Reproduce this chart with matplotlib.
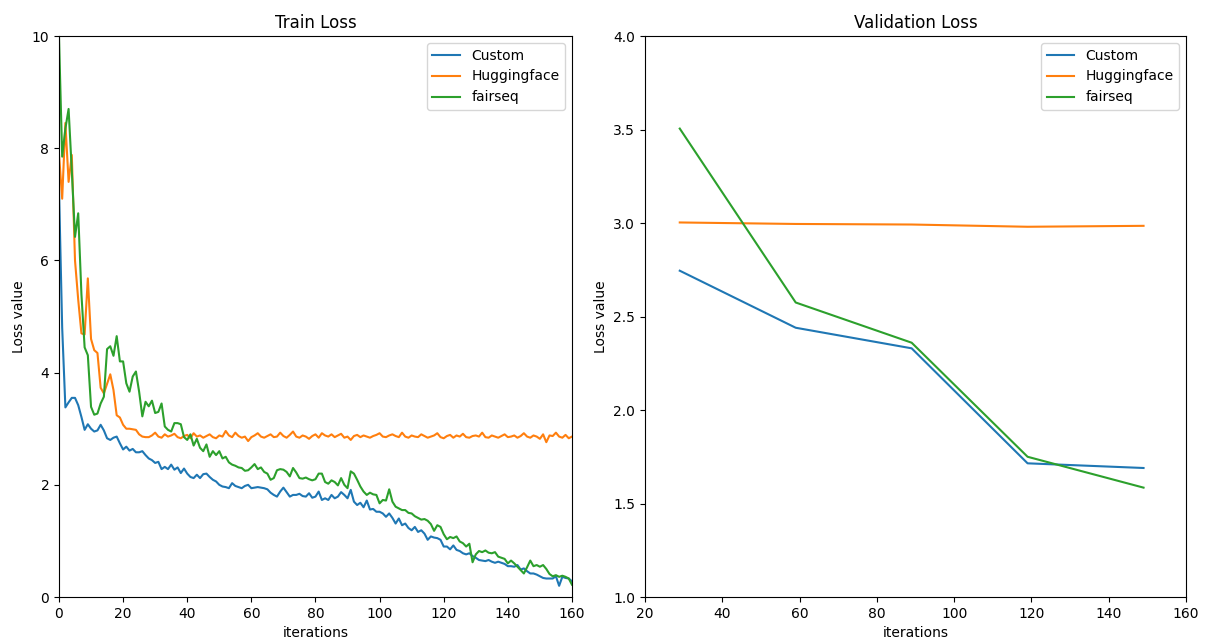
import matplotlib
matplotlib.use('Agg')
import matplotlib.pyplot as plt

# train loss, one value per iteration
train_iters = list(range(161))

train_custom = [
    7.3, 4.8, 3.38, 3.47, 3.55, 3.55, 3.42, 3.21, 2.98, 3.08,
    3.0, 2.95, 2.97, 3.07, 2.97, 2.83, 2.8, 2.84, 2.86, 2.74,
    2.63, 2.68, 2.61, 2.64, 2.58, 2.58, 2.6, 2.53, 2.47, 2.44,
    2.39, 2.41, 2.28, 2.32, 2.28, 2.36, 2.27, 2.31, 2.21, 2.29,
    2.2, 2.14, 2.12, 2.18, 2.12, 2.19, 2.2, 2.14, 2.09, 2.06,
    2.0, 1.97, 1.96, 1.94, 2.03, 1.98, 1.96, 1.94, 1.98, 2.0,
    1.94, 1.95, 1.96, 1.95, 1.94, 1.92, 1.86, 1.82, 1.79, 1.88,
    1.95, 1.87, 1.79, 1.82, 1.82, 1.84, 1.8, 1.79, 1.85, 1.77,
    1.79, 1.88, 1.73, 1.76, 1.73, 1.82, 1.76, 1.79, 1.87, 1.82,
    1.76, 1.91, 1.7, 1.64, 1.68, 1.6, 1.72, 1.56, 1.57, 1.52,
    1.52, 1.49, 1.43, 1.49, 1.41, 1.31, 1.4, 1.28, 1.31, 1.23,
    1.19, 1.25, 1.16, 1.19, 1.13, 1.02, 1.08, 1.06, 1.05, 1.02,
    0.9, 0.9, 0.85, 0.92, 0.84, 0.82, 0.78, 0.76, 0.78, 0.73,
    0.7, 0.66, 0.65, 0.64, 0.66, 0.63, 0.61, 0.63, 0.61, 0.59,
    0.55, 0.55, 0.54, 0.57, 0.49, 0.51, 0.46, 0.42, 0.42, 0.4,
    0.37, 0.34, 0.33, 0.33, 0.33, 0.37, 0.2, 0.36, 0.34, 0.33, 0.28,
]

train_hf = [
    7.9, 7.1, 8.45, 7.4, 7.88, 6.0, 5.3, 4.7, 4.68, 5.68,
    4.6, 4.4, 4.35, 3.73, 3.63, 3.8, 3.97, 3.69, 3.24, 3.2,
    3.07, 3.0, 3.0, 2.99, 2.98, 2.90, 2.86, 2.85, 2.85, 2.88,
    2.93, 2.86, 2.84, 2.90, 2.86, 2.88, 2.91, 2.85, 2.83, 2.87,
    2.89, 2.83, 2.92, 2.86, 2.88, 2.84, 2.87, 2.90, 2.85, 2.83,
    2.88, 2.86, 2.96, 2.88, 2.85, 2.93, 2.87, 2.84, 2.86, 2.78,
    2.85, 2.88, 2.92, 2.86, 2.84, 2.87, 2.90, 2.85, 2.86, 2.93,
    2.87, 2.84, 2.89, 2.95, 2.86, 2.84, 2.88, 2.86, 2.82, 2.87,
    2.90, 2.84, 2.92, 2.88, 2.86, 2.90, 2.85, 2.88, 2.91, 2.84,
    2.86, 2.80, 2.87, 2.89, 2.85, 2.88, 2.86, 2.84, 2.87, 2.89,
    2.92, 2.86, 2.85, 2.88, 2.90, 2.87, 2.85, 2.93, 2.86, 2.84,
    2.88, 2.86, 2.85, 2.90, 2.87, 2.84, 2.86, 2.88, 2.92, 2.85,
    2.83, 2.87, 2.89, 2.84, 2.88, 2.86, 2.91, 2.85, 2.84, 2.87,
    2.88, 2.86, 2.93, 2.85, 2.84, 2.88, 2.86, 2.84, 2.87, 2.90,
    2.85, 2.86, 2.88, 2.84, 2.87, 2.92, 2.86, 2.84, 2.88, 2.86,
    2.82, 2.90, 2.76, 2.88, 2.87, 2.93, 2.86, 2.84, 2.89, 2.83, 2.86,
]

train_fairseq = [
    10.0, 7.85, 8.35, 8.7, 7.6, 6.42, 6.84, 5.4, 4.45, 4.31,
    3.39, 3.25, 3.27, 3.45, 3.57, 4.42, 4.47, 4.3, 4.65, 4.2,
    4.2, 3.81, 3.66, 3.93, 4.02, 3.66, 3.22, 3.48, 3.4, 3.5,
    3.28, 3.3, 3.45, 3.04, 2.98, 2.95, 3.1, 3.1, 3.08, 2.85,
    2.8, 2.9, 2.7, 2.82, 2.66, 2.6, 2.72, 2.5, 2.6, 2.53,
    2.6, 2.47, 2.5, 2.4, 2.36, 2.34, 2.31, 2.3, 2.25, 2.26,
    2.31, 2.37, 2.28, 2.31, 2.23, 2.2, 2.09, 2.12, 2.26, 2.28,
    2.27, 2.23, 2.15, 2.3, 2.22, 2.12, 2.11, 2.13, 2.1, 2.08,
    2.1, 2.2, 2.2, 2.05, 2.02, 2.08, 2.05, 1.99, 2.12, 2.0,
    1.94, 2.24, 2.2, 2.09, 1.97, 1.88, 1.82, 1.86, 1.83, 1.82,
    1.67, 1.73, 1.72, 1.92, 1.7, 1.61, 1.58, 1.55, 1.55, 1.5,
    1.49, 1.44, 1.41, 1.38, 1.39, 1.36, 1.3, 1.18, 1.28, 1.25,
    1.12, 1.03, 1.07, 1.05, 1.08, 0.99, 0.96, 0.9, 0.95, 0.62,
    0.76, 0.82, 0.8, 0.83, 0.79, 0.78, 0.8, 0.72, 0.7, 0.68,
    0.6, 0.65, 0.6, 0.54, 0.48, 0.42, 0.53, 0.65, 0.55, 0.57,
    0.54, 0.57, 0.5, 0.41, 0.37, 0.39, 0.36, 0.38, 0.36, 0.33, 0.22,
]

# validation loss
val_iters = [29, 59, 89, 119, 149]
val_custom = [2.745, 2.44, 2.33, 1.715, 1.69]
val_hf = [3.003, 2.995, 2.992, 2.98, 2.985]
val_fairseq = [3.505, 2.575, 2.36, 1.75, 1.585]

labels = ['Custom', 'Huggingface', 'fairseq']

fig = plt.figure(figsize=(12.11, 6.41), dpi=100)
ax1 = fig.add_axes([0.0487, 0.0686, 0.4236, 0.8752])
ax2 = fig.add_axes([0.5326, 0.0686, 0.4468, 0.8752])

ax1.plot(train_iters, train_custom, label=labels[0])
ax1.plot(train_iters, train_hf, label=labels[1])
ax1.plot(train_iters, train_fairseq, label=labels[2])
ax1.set_xlim(0, 160)
ax1.set_ylim(0, 10)
ax1.set_title('Train Loss')
ax1.set_xlabel('iterations')
ax1.set_ylabel('Loss value')
ax1.legend(loc='upper right')

ax2.plot(val_iters, val_custom, label=labels[0])
ax2.plot(val_iters, val_hf, label=labels[1])
ax2.plot(val_iters, val_fairseq, label=labels[2])
ax2.set_xlim(20, 160)
ax2.set_ylim(1.0, 4.0)
ax2.set_title('Validation Loss')
ax2.set_xlabel('iterations')
ax2.set_ylabel('Loss value')
ax2.legend(loc='upper right')

fig.savefig('out.png', dpi=100)
